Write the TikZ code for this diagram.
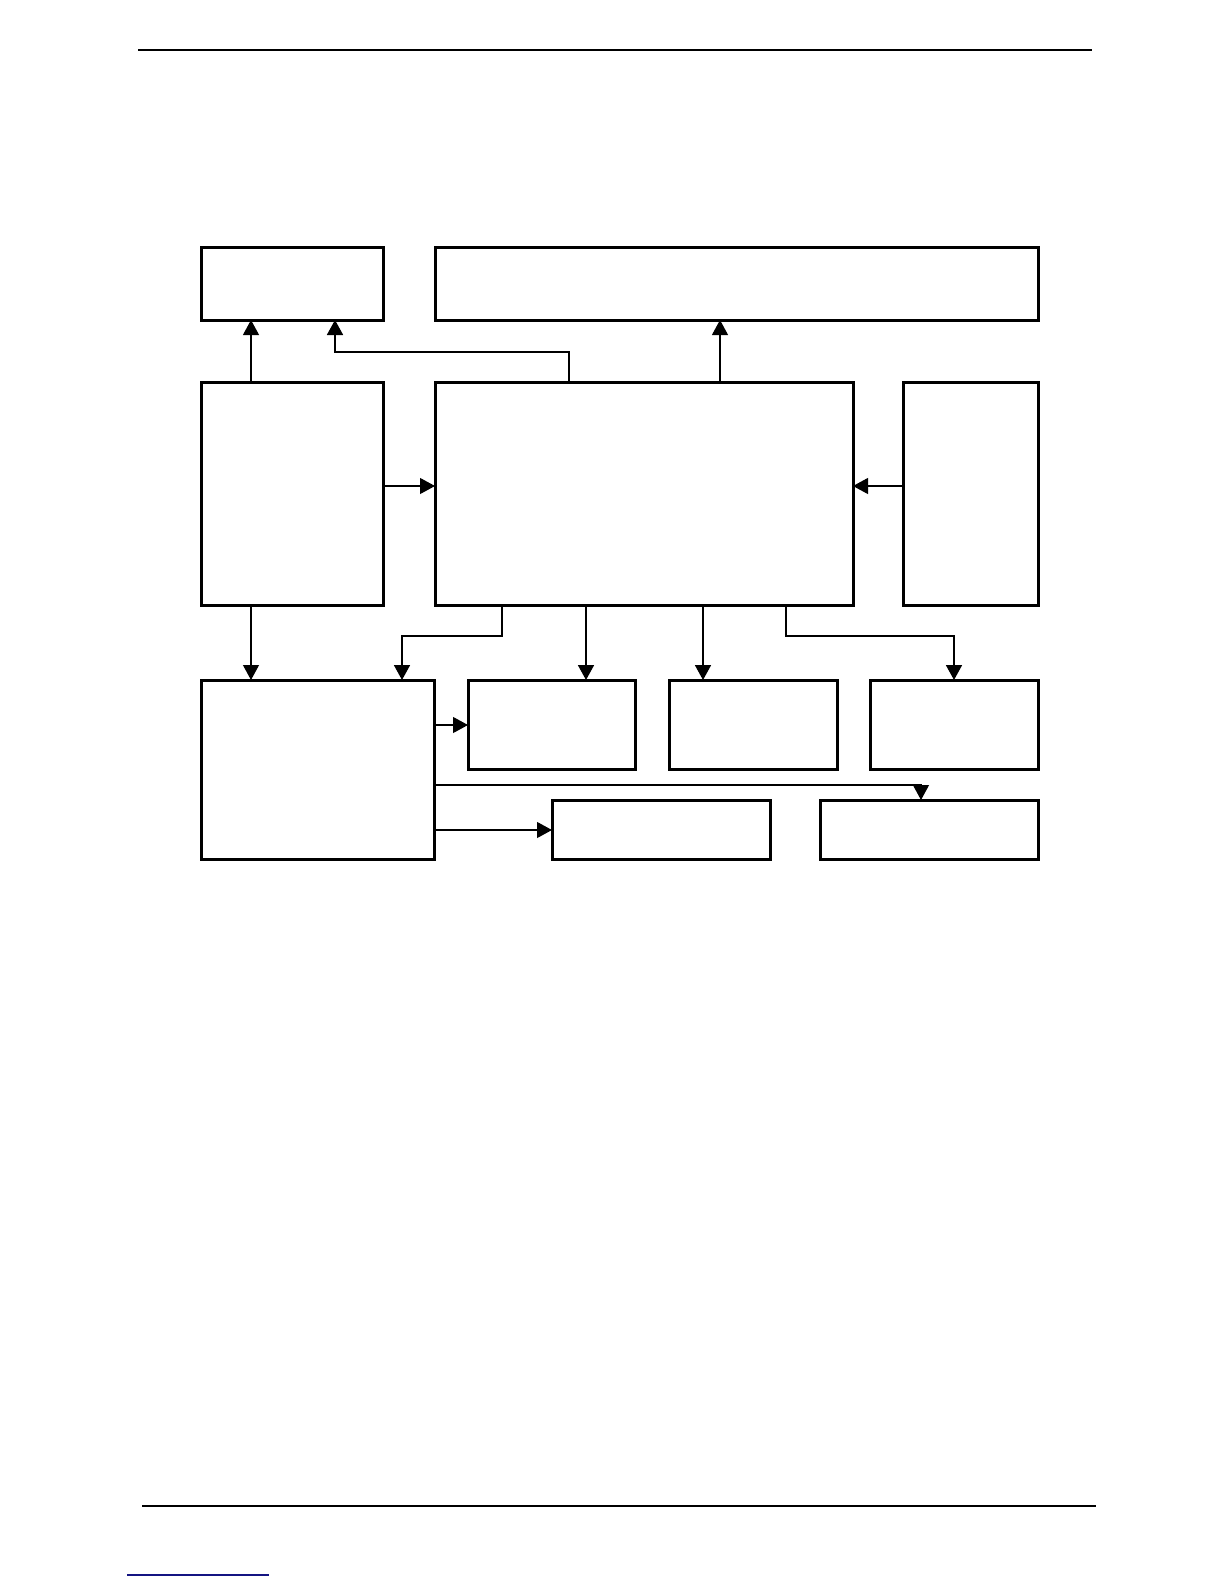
\documentclass[tikz,border=0pt]{standalone}
\usetikzlibrary{arrows.meta}
\newcommand\mkbox[5]{\node[box, minimum width={(#4-#2)*0.5bp}, minimum height={(#5-#3)*0.5bp}] (#1) at (#2,#3) {};}
\tikzset{
  box/.style={draw, line width=1.5bp, inner sep=0pt, outer sep=0pt, anchor=north west},
  conn/.style={line width=0.55bp, -{Triangle[length=7.5bp,width=8bp]}},
  connthick/.style={line width=0.9bp, -{Triangle[length=7.5bp,width=8bp]}},
  rule/.style={line width=0.75bp}
}
\begin{document}
\begin{tikzpicture}[x=0.5bp,y=-0.5bp]
\useasboundingbox (0,0) rectangle (1224,1584);
% page rules
\coordinate (t1) at (138,50); \coordinate (t2) at (1092,50);
\coordinate (b1) at (142,1506); \coordinate (b2) at (1096,1506);
\coordinate (l1) at (127,1575); \coordinate (l2) at (269,1575);
\draw[rule] (t1) -- (t2);
\draw[rule] (b1) -- (b2);
\draw[line width=1bp, draw={rgb,255:red,20;green,20;blue,130}] (l1) -- (l2);
% boxes
\mkbox{A}{201}{247}{383}{320}
\mkbox{B}{435}{247}{1038}{320}
\mkbox{C}{201}{382}{383}{605}
\mkbox{D}{435}{382}{853}{605}
\mkbox{K}{903}{382}{1038}{605}
\mkbox{E}{201}{680}{434}{859}
\mkbox{F}{468}{680}{635}{769}
\mkbox{G}{669}{680}{837}{769}
\mkbox{I}{870}{680}{1038}{769}
\mkbox{H}{552}{800}{770}{859}
\mkbox{J}{820}{800}{1038}{859}
% helper coordinates
\coordinate (x251) at (251,0);
\coordinate (x569) at (569,0);
\coordinate (x335) at (335,0);
\coordinate (x720) at (720,0);
\coordinate (x502) at (502,0);
\coordinate (x402) at (402,0);
\coordinate (x586) at (586,0);
\coordinate (x703) at (703,0);
\coordinate (x786) at (786,0);
\coordinate (x954) at (954,0);
\coordinate (x921) at (921,0);
\coordinate (y486) at (0,486);
\coordinate (y725) at (0,725);
\coordinate (y785) at (0,785);
\coordinate (y830) at (0,830);
\coordinate (y352) at (0,352);
\coordinate (y636) at (0,636);
% connectors
\draw[conn] (C.north -| x251) -- (A.south -| x251);
\draw[connthick] (D.north -| x569) -- (x569 |- y352) -- (x335 |- y352) -- (A.south -| x335);
\draw[conn] (D.north -| x720) -- (B.south -| x720);
\draw[conn] (C.east |- y486) -- (D.west |- y486);
\draw[conn] (K.west |- y486) -- (D.east |- y486);
\draw[conn] (C.south -| x251) -- (E.north -| x251);
\draw[connthick] (D.south -| x502) -- (x502 |- y636) -- (x402 |- y636) -- (E.north -| x402);
\draw[connthick] (D.south -| x586) -- (F.north -| x586);
\draw[connthick] (D.south -| x703) -- (G.north -| x703);
\draw[connthick] (D.south -| x786) -- (x786 |- y636) -- (x954 |- y636) -- (I.north -| x954);
\draw[conn] (E.east |- y725) -- (F.west |- y725);
\draw[conn] (E.east |- y785) -- (x921 |- y785) -- (J.north -| x921);
\draw[conn] (E.east |- y830) -- (H.west |- y830);
\end{tikzpicture}
\end{document}
